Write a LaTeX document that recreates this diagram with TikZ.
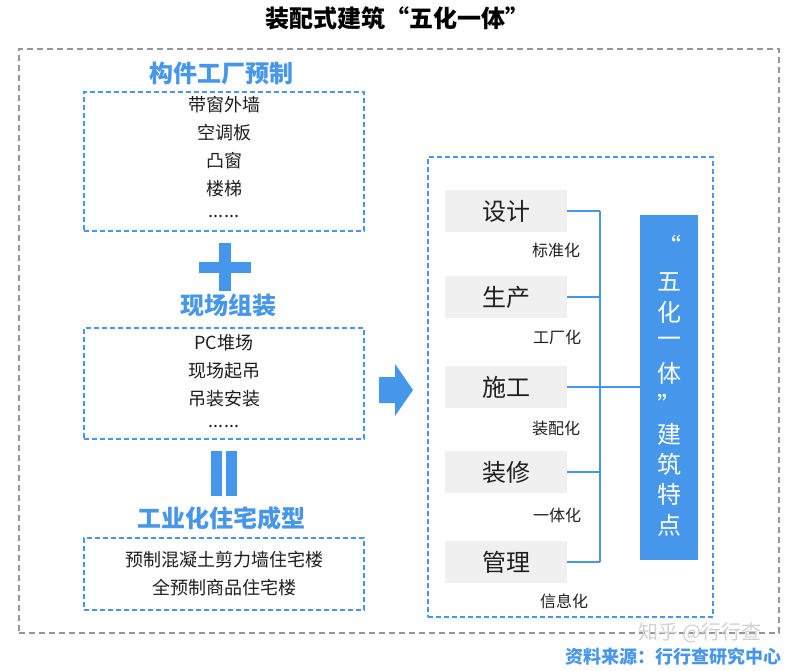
\documentclass[tikz,border=0pt]{standalone}
\usepackage{fontspec}
\setmainfont{Noto Sans CJK SC}
\newfontfamily\cjk{Noto Sans CJK SC}
\definecolor{mblue}{RGB}{70,150,235}
\definecolor{mgray}{RGB}{150,150,150}
\definecolor{boxgray}{RGB}{240,240,240}
\definecolor{txt}{RGB}{30,30,30}
\begin{document}
\begin{tikzpicture}[x=1pt,y=-1pt,
  bluedash/.style={draw=mblue,line width=1.6pt,dash pattern=on 5pt off 3pt},
  graydash/.style={draw=mgray,line width=1.4pt,dash pattern=on 6pt off 4pt},
  head/.style={font=\cjk\fontsize{24}{28}\selectfont\bfseries,text=mblue,inner sep=0pt},
  item/.style={font=\cjk\fontsize{18}{28}\selectfont,text=txt,inner sep=0pt},
  stage/.style={fill=boxgray,minimum width=122pt,minimum height=42pt,inner sep=0pt,font=\cjk\fontsize{24}{28}\selectfont,text=txt},
  lab/.style={font=\cjk\fontsize{16}{20}\selectfont,text=txt,inner sep=0pt},
  barch/.style={font=\cjk\fontsize{24}{28}\selectfont,text=white,inner sep=0pt},
  conn/.style={draw=mblue,line width=1.6pt}
]
\useasboundingbox (0,0) rectangle (795,671);
\fill[white] (0,0) rectangle (795,671);

% title
\node[font=\cjk\fontsize{24}{28}\selectfont\bfseries,text=black,inner sep=0pt] (title) at (397,18) {装配式建筑“五化一体”};

% outer frame
\node[graydash,minimum width=760pt,minimum height=584pt,inner sep=0pt] (outer) at (399,341) {};

% left column
\node[head] (h1) at (221,73) {构件工厂预制};
\node[bluedash,minimum width=280pt,minimum height=139pt,inner sep=0pt] (b1) at (224,161.5) {};
\node[item] (t11) at (224,105) {带窗外墙};
\node[item] (t12) at (224,133) {空调板};
\node[item] (t13) at (224,161) {凸窗};
\node[item] (t14) at (224,189) {楼梯};
\node[item] (t15) at (224,216) {......};

% plus
\fill[mblue] (199,261.5) rectangle (251,273);
\fill[mblue] (219,243) rectangle (231,291);

\node[head] (h2) at (228,305) {现场组装};
\node[bluedash,minimum width=280pt,minimum height=111pt,inner sep=0pt] (b2) at (224,383.5) {};
\node[item] (t21) at (224,343) {PC堆场};
\node[item] (t22) at (224,371) {现场起吊};
\node[item] (t23) at (224,399) {吊装安装};
\node[item] (t24) at (224,426) {......};

% equals (vertical bars)
\fill[mblue] (211,451) rectangle (222,496);
\fill[mblue] (225.5,451) rectangle (236.5,496);

\node[head] (h3) at (221,518) {工业化住宅成型};
\node[bluedash,minimum width=280pt,minimum height=72pt,inner sep=0pt] (b3) at (224,574) {};
\node[item] (t31) at (224,560) {预制混凝土剪力墙住宅楼};
\node[item] (t32) at (224,588) {全预制商品住宅楼};

% arrow
\fill[mblue] (379,377) -- (395,377) -- (395,364) -- (413,390) -- (395,416) -- (395,403) -- (379,403) -- cycle;

% right frame
\node[bluedash,minimum width=285pt,minimum height=460pt,inner sep=0pt] (rb) at (570.5,387) {};

\node[stage] (s1) at (506,211) {设计};
\node[stage] (s2) at (506,297) {生产};
\node[stage] (s3) at (506,387) {施工};
\node[stage] (s4) at (506,472) {装修};
\node[stage] (s5) at (506,562) {管理};

\node[lab] (l1) at (556,250) {标准化};
\node[lab] (l2) at (557,337) {工厂化};
\node[lab] (l3) at (556,428) {装配化};
\node[lab] (l4) at (557,515) {一体化};
\node[lab] (l5) at (564,601) {信息化};

% blue bar
\node[fill=mblue,minimum width=58pt,minimum height=345pt,inner sep=0pt] (bar) at (669,387.5) {};
\node[barch] (q1) at (669,245) {“};
\node[barch] (c1) at (669,282) {五};
\node[barch] (c2) at (669,312) {化};
\node[barch] (c3) at (669,342) {一};
\node[barch] (c4) at (669,373) {体};
\node[barch] (q2) at (669,404) {”};
\node[barch] (c5) at (669,434) {建};
\node[barch] (c6) at (669,464) {筑};
\node[barch] (c7) at (669,494) {特};
\node[barch] (c8) at (669,525) {点};

% connectors
\coordinate (v1) at (600,211);
\coordinate (v5) at (600,562);
\draw[conn] (v1) -- (v5);
\draw[conn] (s1.east) -- (v1);
\draw[conn] (s2.east) -- (s2.east -| v1);
\draw[conn] (s3.east) -- (s3.east -| v1);
\draw[conn] (s4.east) -- (s4.east -| v1);
\draw[conn] (s5.east) -- (v5);
\draw[conn] (s3.east -| v1) -- (bar.west |- s3.east);

% watermark
\node[font=\cjk\fontsize{20}{24}\selectfont,text=black!18,inner sep=0pt] (wm) at (700,633) {知乎 @行行查};

% source
\node[font=\cjk\fontsize{18}{22}\selectfont\bfseries,text=mblue,inner sep=0pt,anchor=east] (src) at (782,657) {资料来源：行行查研究中心};
\end{tikzpicture}
\end{document}
